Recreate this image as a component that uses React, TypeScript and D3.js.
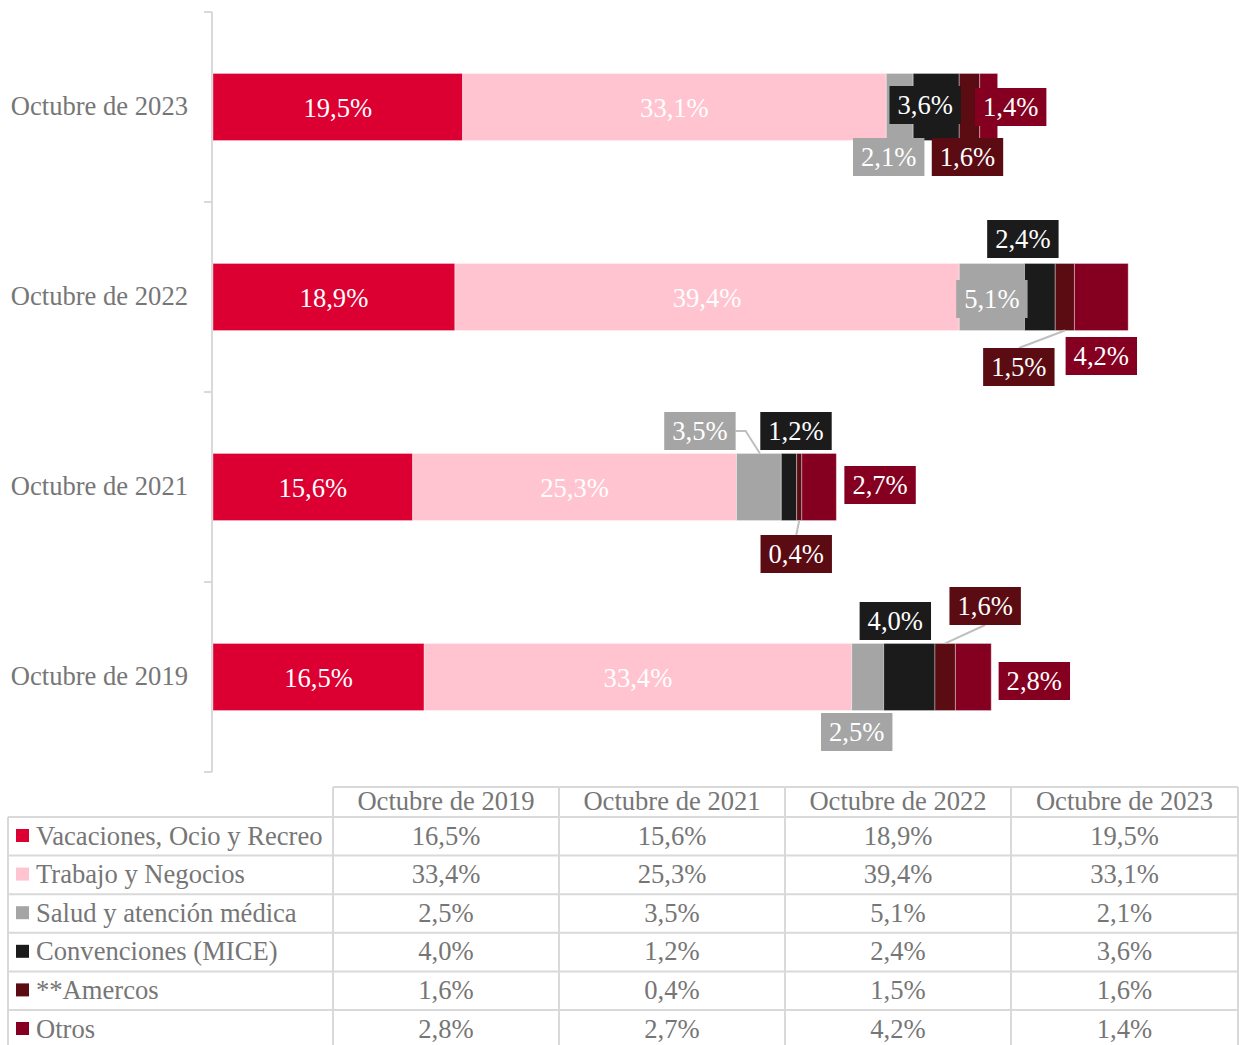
import React from "react";
import * as d3 from "d3";

const years = ["Octubre de 2019", "Octubre de 2021", "Octubre de 2022", "Octubre de 2023"];
const seriesNames = [
  "Vacaciones, Ocio y Recreo",
  "Trabajo y Negocios",
  "Salud y atención médica",
  "Convenciones (MICE)",
  "**Amercos",
  "Otros",
];
const seriesColors = ["#DC0032", "#FFC4D0", "#A5A5A5", "#1B1B1B", "#5A0C12", "#850020"];
const vacaciones = [16.5, 15.6, 18.9, 19.5];
const trabajo = [33.4, 25.3, 39.4, 33.1];
const salud = [2.5, 3.5, 5.1, 2.1];
const convenciones = [4.0, 1.2, 2.4, 3.6];
const amercos = [1.6, 0.4, 1.5, 1.6];
const otros = [2.8, 2.7, 4.2, 1.4];
const seriesValues = [vacaciones, trabajo, salud, convenciones, amercos, otros];

// label layout offsets (px) relative to segment centre, for boxed labels (series 2..5)
const labelLayout: Record<string, [number, number, string?]> = {
  "3-2": [-11, 50],
  "3-3": [-11, -2],
  "3-4": [-2, 50],
  "3-5": [22, 0],
  "2-2": [0, 2],
  "2-3": [-17, -58],
  "2-4": [-46, 70, "down"],
  "2-5": [0, 59],
  "1-2": [-59, -56, "elbow"],
  "1-3": [7, -56],
  "1-4": [-3, 67, "down"],
  "1-5": [61, -2],
  "0-2": [-11, 55],
  "0-3": [-14, -56],
  "0-4": [40, -71, "up"],
  "0-5": [61, 4],
};

const fmt = (v: number) => v.toFixed(1).replace(".", ",") + "%";
const FONT = "'Liberation Serif', 'Times New Roman', serif";
const FS = 26.6;
const GRAY_TEXT = "#767676";
const GRID = "#D9D9D9";

export default function App() {
  const W = 1239;
  const H = 1045;
  const x = d3.scaleLinear().domain([0, 80]).range([213, 1237]);
  const yOrder = [...years].reverse();
  const y = d3.scaleBand<string>().domain(yOrder).range([12, 772]).paddingInner(0.647).paddingOuter(0.3235);
  const bandH = y.bandwidth();

  const stackData = years.map((yr, i) => {
    const o: any = { year: yr };
    seriesNames.forEach((s, j) => (o[s] = seriesValues[j][i]));
    return o;
  });
  const stack = d3.stack<any>().keys(seriesNames)(stackData);

  const tickYs = [0, 1, 2, 3, 4].map((k) => 12 + k * y.step());

  const colX = [8, 333, 559, 785, 1011, 1238];
  const headerTop = 787;
  const rowY = d3.range(7).map((k) => (k === 0 ? headerTop : 817 + (k - 1) * 38.6));

  const charW = FS * 0.5;
  const boxW = (t: string) => {
    let w = 0;
    for (const c of t) w += c === "," ? FS * 0.25 : c === "%" ? FS * 0.833 : charW;
    return w + 16;
  };

  return (
    <svg width={W} height={H} style={{ position: "absolute", left: 0, top: 0, display: "block" }} fontFamily={FONT}>
      <rect width={W} height={H} fill="#fff" />
      <line x1={212} x2={212} y1={12} y2={772} stroke={GRID} strokeWidth={2} />
      {tickYs.map((t, i) => (
        <line key={i} x1={204} x2={212} y1={t} y2={t} stroke={GRID} strokeWidth={2} />
      ))}
      {years.map((yr) => (
        <text key={yr} x={188} y={(y(yr) as number) + bandH / 2 - 1} textAnchor="end" dominantBaseline="central" fontSize={FS} fill={GRAY_TEXT}>
          {yr}
        </text>
      ))}
      {stack.map((layer, j) => (
        <g key={j}>
          {layer.map((d, i) => (
            <rect
              key={i}
              x={x(d[0])}
              width={x(d[1]) - x(d[0])}
              y={y(years[i]) as number}
              height={bandH}
              fill={seriesColors[j]}
              stroke="#ffffff"
              strokeOpacity={0.35}
              strokeWidth={1}
            />
          ))}
        </g>
      ))}
      {stack.map((layer, j) =>
        layer.map((d, i) => {
          const cx = (x(d[0]) + x(d[1])) / 2;
          const cy = (y(years[i]) as number) + bandH / 2;
          const t = fmt(seriesValues[j][i]);
          if (j < 2) {
            return (
              <text key={`${j}-${i}`} x={cx} y={cy + 1} textAnchor="middle" dominantBaseline="central" fontSize={FS} fill="#fff">
                {t}
              </text>
            );
          }
          const lay = labelLayout[`${i}-${j}`];
          const lx = cx + lay[0];
          const ly = cy + lay[1];
          const bw = boxW(t);
          const bh = 38;
          let leader: React.ReactNode = null;
          if (lay[2] === "down") {
            leader = <polyline points={`${cx},${cy + bandH / 2} ${lx},${ly - bh / 2}`} fill="none" stroke="#BFBFBF" strokeWidth={2} />;
          } else if (lay[2] === "up") {
            leader = <polyline points={`${cx},${cy - bandH / 2} ${lx},${ly + bh / 2}`} fill="none" stroke="#BFBFBF" strokeWidth={2} />;
          } else if (lay[2] === "elbow") {
            leader = (
              <polyline
                points={`${lx + bw / 2},${ly} ${lx + bw / 2 + 10},${ly} ${cx + 1},${cy - bandH / 2}`}
                fill="none"
                stroke="#BFBFBF"
                strokeWidth={2}
              />
            );
          }
          return (
            <g key={`${j}-${i}`}>
              {leader}
              <rect x={lx - bw / 2} y={ly - bh / 2} width={bw} height={bh} fill={seriesColors[j]} />
              <text x={lx} y={ly} textAnchor="middle" dominantBaseline="central" fontSize={FS} fill="#fff">
                {t}
              </text>
            </g>
          );
        })
      )}
      <g>
        <line x1={colX[1]} x2={colX[5]} y1={rowY[0]} y2={rowY[0]} stroke={GRID} strokeWidth={2} />
        {rowY.slice(1).map((ry, k) => (
          <line key={k} x1={colX[0]} x2={colX[5]} y1={ry} y2={ry} stroke={GRID} strokeWidth={2} />
        ))}
        <line x1={colX[0]} x2={colX[0]} y1={rowY[1]} y2={H} stroke={GRID} strokeWidth={2} />
        {colX.slice(1).map((cx, k) => (
          <line key={k} x1={cx} x2={cx} y1={rowY[0]} y2={H} stroke={GRID} strokeWidth={2} />
        ))}
        {years.map((yr, c) => (
          <text key={yr} x={(colX[c + 1] + colX[c + 2]) / 2} y={(rowY[0] + rowY[1]) / 2 - 1} textAnchor="middle" dominantBaseline="central" fontSize={FS} fill={GRAY_TEXT}>
            {yr}
          </text>
        ))}
        {seriesNames.map((s, r) => {
          const cy = rowY[r + 1] + 18.5;
          return (
            <g key={s}>
              <rect x={16} y={cy - 6.5} width={13} height={13} fill={seriesColors[r]} />
              <text x={36} y={cy} dominantBaseline="central" fontSize={FS} fill={GRAY_TEXT}>
                {s}
              </text>
              {years.map((yr, c) => (
                <text key={yr} x={(colX[c + 1] + colX[c + 2]) / 2} y={cy} textAnchor="middle" dominantBaseline="central" fontSize={FS} fill={GRAY_TEXT}>
                  {fmt(seriesValues[r][c])}
                </text>
              ))}
            </g>
          );
        })}
      </g>
    </svg>
  );
}
